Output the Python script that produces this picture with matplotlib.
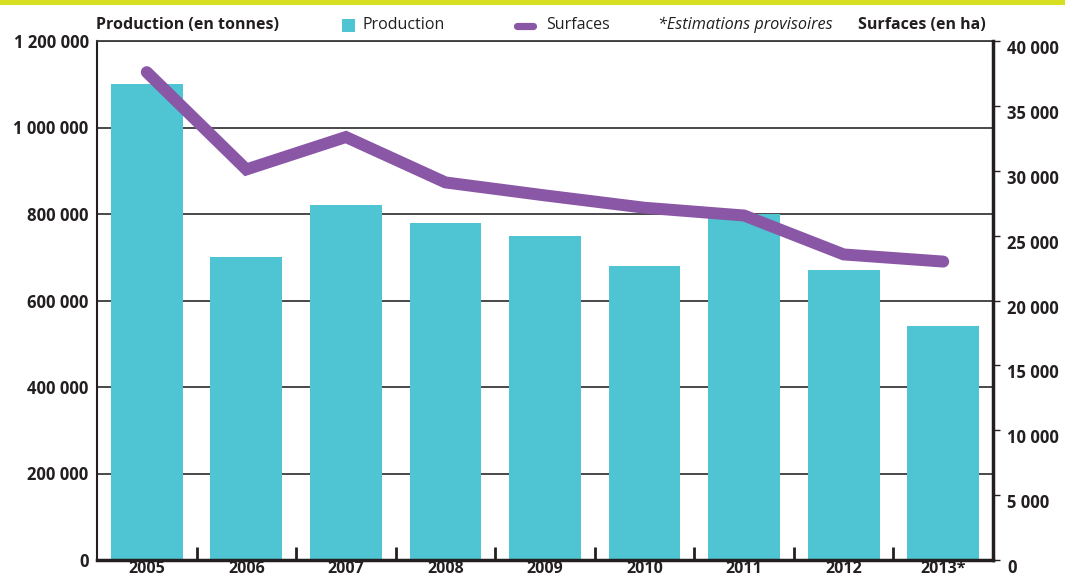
import numpy as np
import matplotlib
matplotlib.use("Agg")
import matplotlib.pyplot as plt
import matplotlib.transforms as mtransforms
from matplotlib.patches import Rectangle
from matplotlib.lines import Line2D

# Data
years = ["2005", "2006", "2007", "2008", "2009", "2010", "2011", "2012", "2013*"]
production = [1100000, 700000, 820000, 780000, 750000, 680000, 800000, 670000, 540000]
surfaces = [37600, 30100, 32600, 29100, 28100, 27150, 26550, 23550, 23000]
prod_ticks = [0, 200000, 400000, 600000, 800000, 1000000, 1200000]
surf_ticks = [0, 5000, 10000, 15000, 20000, 25000, 30000, 35000, 40000]

BAR = "#4FC4D2"
LINE = "#8A56A6"
LIME = "#D6E021"
DARK = "#231F20"

plt.rcParams["font.family"] = ["Open Sans", "DejaVu Sans"]
plt.rcParams["text.color"] = DARK


def fmt(v):
    return f"{v:,}".replace(",", " ")


W, H = 1065, 580
fig = plt.figure(figsize=(W / 100, H / 100), dpi=100)
ax = fig.add_axes([97 / W, 20 / H, 896 / W, 519 / H])
x = np.arange(len(years))

# Bars (production)
ax.bar(x, production, width=0.72, color=BAR, zorder=2)
ax.set_xlim(-0.5, len(years) - 0.5)
ax.set_ylim(0, 1200000)
ax.set_axisbelow(True)
ax.yaxis.grid(True, color="#3a3a3a", lw=1.3)

ax.set_yticks(prod_ticks, [fmt(v) for v in prod_ticks])
ax.tick_params(axis="y", length=0, pad=6, labelsize=12, colors=DARK)
for lab in ax.get_yticklabels():
    lab.set_fontweight("bold")

ax.set_xticks(x, years)
ax.set_xticks(x[:-1] + 0.5, minor=True)
ax.tick_params(axis="x", which="major", length=0, pad=1, labelsize=11.5, colors=DARK)
ax.tick_params(axis="x", which="minor", direction="in", length=9.5, width=2, color=DARK)
for lab in ax.get_xticklabels():
    lab.set_fontweight("bold")

ax.spines["bottom"].set_linewidth(2.5)
ax.spines["bottom"].set_color(DARK)
ax.spines["left"].set_linewidth(1.5)
ax.spines["left"].set_color(DARK)
ax.spines["top"].set_linewidth(1.3)
ax.spines["top"].set_color("#3a3a3a")
ax.spines["right"].set_visible(False)

# Line (surfaces) on the right axis
ax2 = ax.twinx()
ax2.plot(x, surfaces, color=LINE, lw=8.6, solid_capstyle="round",
         solid_joinstyle="miter", zorder=3)
ax2.set_ylim(0, 40000)
ax2.set_yticks(surf_ticks, [fmt(v) for v in surf_ticks])
ax2.tick_params(axis="y", direction="out", length=5, width=1, pad=5,
                labelsize=12, colors=DARK)
offset = mtransforms.ScaledTranslation(0, -6 / 100, fig.dpi_scale_trans)
for lab in ax2.get_yticklabels():
    lab.set_fontweight("bold")
    lab.set_transform(lab.get_transform() + offset)
for s in ["top", "left", "bottom"]:
    ax2.spines[s].set_visible(False)
ax2.spines["right"].set_linewidth(2.5)
ax2.spines["right"].set_color(DARK)

# Top lime strip
fig.add_artist(Rectangle((0, 1 - 5 / H), 1, 5 / H, transform=fig.transFigure,
                         color=LIME, lw=0))

# Header texts and hand-drawn legend
hy = 1 - 25 / H
fig.text(96 / W, hy, "Production (en tonnes)", fontsize=11.5, fontweight="bold", va="center")
fig.add_artist(Rectangle((342 / W, 1 - 32 / H), 13 / W, 13 / H,
                         transform=fig.transFigure, color=BAR, lw=0))
fig.text(363 / W, hy, "Production", fontsize=11.5, va="center")
fig.add_artist(Line2D([517 / W, 533 / W], [1 - 26 / H] * 2, transform=fig.transFigure,
                      color=LINE, lw=5.2, solid_capstyle="round"))
fig.text(546 / W, hy, "Surfaces", fontsize=11.5, va="center")
fig.text(658 / W, hy, "*Estimations provisoires", fontsize=11.7, style="italic", va="center")
fig.text(986 / W, hy, "Surfaces (en ha)", fontsize=11.5, fontweight="bold",
         va="center", ha="right")

fig.savefig("out.png", dpi=100)
